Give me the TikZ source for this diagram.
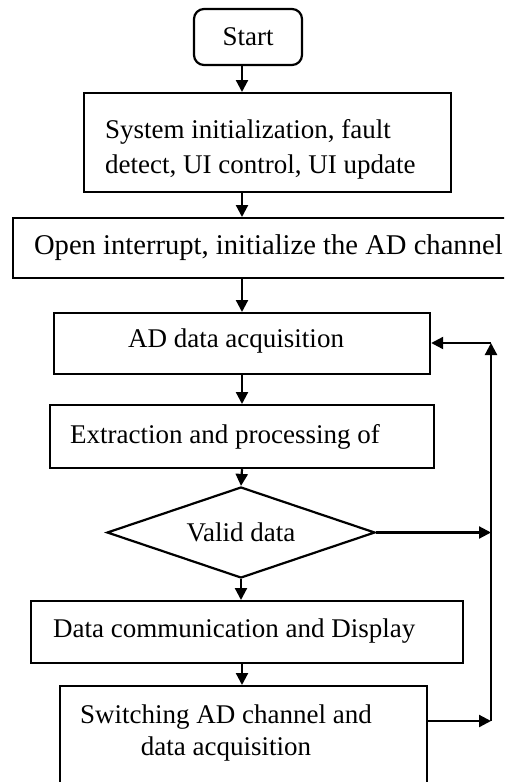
\documentclass[tikz,border=0pt]{standalone}
\usepackage{fontspec}
\setmainfont{Liberation Serif}
\usetikzlibrary{arrows.meta,shapes.geometric}

\tikzset{every picture/.style={line width=2.2pt}}
\tikzset{
  box/.style={draw, rectangle, inner sep=0pt, anchor=north west},
  txt/.style={inner sep=0pt, font=\fontsize{27}{35}\selectfont},
  flow/.style={-{Triangle[length=12pt,width=12pt]}},
}

\begin{document}
\begin{tikzpicture}[x=1pt,y=1pt,yscale=-1]
\clip (0,0) rectangle (504,782);
% main line of the flow
\coordinate (spine) at (242,0);

% Start
\node[txt, draw, rounded corners=10pt, minimum width=108pt, minimum height=56pt] (start) at (248,37) {Start};
% System initialization
\node[box, minimum width=367pt, minimum height=99pt] (sys) at (83,92) {};
\node[txt, anchor=base west, align=left] (sysT) at (104,173) {System initialization, fault\\detect, UI control, UI update};
% Open interrupt
\node[box, minimum width=520pt, minimum height=60pt] (open) at (12,217) {};
\node[txt, anchor=base west, font=\fontsize{28.6}{34}\selectfont] (openT) at (33,254) {Open interrupt, initialize the AD channel};
% AD data acquisition
\node[box, minimum width=376pt, minimum height=61pt] (acq) at (53,312) {};
\node[txt, anchor=base] (acqT) at (236,347) {AD data acquisition};
% Extraction
\node[box, minimum width=384pt, minimum height=63pt] (extract) at (49,404) {};
\node[txt, anchor=base west] (extractT) at (69,443) {Extraction and processing of};
% Valid data
\node[txt, draw, diamond, shape aspect=3, minimum width=268pt, minimum height=91pt] (valid) at (241,532.5) {Valid data};
% Data communication
\node[box, minimum width=432pt, minimum height=62pt] (comm) at (30,600) {};
\node[txt, anchor=base west] (commT) at (52,637) {Data communication and Display};
% Switching
\node[box, minimum width=367pt, minimum height=130pt] (switch) at (59,685) {};
\node[txt, anchor=base, align=center, font=\fontsize{27}{32}\selectfont] (switchT) at (226,755) {Switching AD channel and\\data acquisition};

% loop back on the right
\coordinate (loopV) at (491,532.5);
\coordinate (loopS) at (491,721);
\coordinate (loopTop) at (491,343);

% Connectors
\draw[flow] (spine |- start.south) -- (spine |- sys.north);
\draw[flow] (spine |- sys.south) -- (spine |- open.north);
\draw[flow] (spine |- open.south) -- (spine |- acq.north);
\draw[flow] (spine |- acq.south) -- (spine |- extract.north);
\draw[flow] (spine |- extract.south) -- (valid.north);
\draw[flow] (valid.south) -- (valid.south |- comm.north);
\draw[flow] (spine |- comm.south) -- (spine |- switch.north);
\draw[flow] (valid.east) -- (loopV);
\draw[flow] (loopS -| switch.east) -- (loopS);
\draw[flow] (loopS) -- (loopTop);
\draw[flow] (loopTop) -- (loopTop -| acq.east);

\end{tikzpicture}
\end{document}
